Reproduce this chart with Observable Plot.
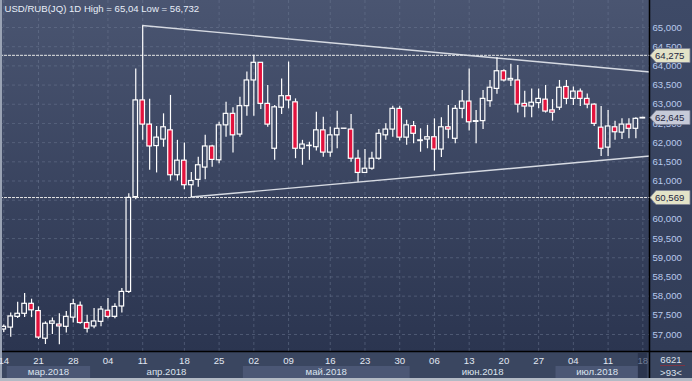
<!DOCTYPE html>
<html><head><meta charset="utf-8">
<script src="https://cdn.jsdelivr.net/npm/d3@7"></script>
<script src="https://cdn.jsdelivr.net/npm/@observablehq/plot@0.6"></script>
<style>
html,body{margin:0;padding:0;background:#2e3952;overflow:hidden;}
#wrap{position:relative;width:692px;height:381px;overflow:hidden;background:#394560;}
#plotbg{position:absolute;left:0;top:0;width:650px;height:351px;background:linear-gradient(#4a5571,#2b3550);}
#axbg{position:absolute;left:650px;top:0;width:42px;height:351px;background:linear-gradient(#3e4a67,#313c57);}
#botbg{position:absolute;left:0;top:351px;width:692px;height:30px;background:#3a4660;}
#wrap svg{position:absolute;left:0;top:0;}
</style>
</head><body>
<div id="wrap"><div id="plotbg"></div><div id="axbg"></div><div id="botbg"></div></div>
<script>
const titleText = "USD/RUB(JQ) 1D High = 65,04 Low = 56,732";
const dates = ["2018-03-14","2018-03-15","2018-03-16","2018-03-19","2018-03-20","2018-03-21","2018-03-22","2018-03-23","2018-03-26","2018-03-27","2018-03-28","2018-03-29","2018-03-30","2018-04-02","2018-04-03","2018-04-04","2018-04-05","2018-04-06","2018-04-09","2018-04-10","2018-04-11","2018-04-12","2018-04-13","2018-04-15","2018-04-16","2018-04-17","2018-04-18","2018-04-19","2018-04-20","2018-04-23","2018-04-24","2018-04-25","2018-04-26","2018-04-27","2018-04-30","2018-05-01","2018-05-02","2018-05-03","2018-05-04","2018-05-07","2018-05-08","2018-05-09","2018-05-10","2018-05-11","2018-05-13","2018-05-14","2018-05-15","2018-05-16","2018-05-17","2018-05-18","2018-05-21","2018-05-22","2018-05-23","2018-05-24","2018-05-25","2018-05-28","2018-05-29","2018-05-30","2018-05-31","2018-06-01","2018-06-04","2018-06-05","2018-06-06","2018-06-07","2018-06-08","2018-06-11","2018-06-12","2018-06-13","2018-06-14","2018-06-15","2018-06-18","2018-06-19","2018-06-20","2018-06-21","2018-06-22","2018-06-25","2018-06-26","2018-06-27","2018-06-28","2018-06-29","2018-07-02","2018-07-03","2018-07-04","2018-07-05","2018-07-06","2018-07-09","2018-07-10","2018-07-11","2018-07-12","2018-07-13","2018-07-16","2018-07-17","2018-07-18"];
const open = [57.13,57.18,57.46,57.54,57.80,57.61,56.89,57.28,57.26,57.20, 57.44,57.75,57.30,57.21,57.33,57.62,57.46,57.73,58.11,60.58, 63.10,62.47,61.91,62.08,62.32,61.15,61.53,60.89,61.03,61.35, 61.90,61.54,62.45,62.75,62.21,62.95,63.62,64.08,63.01,61.84, 62.91,63.21,63.05,61.84,61.91,61.88,62.32,61.74,62.19,62.36, 62.34,61.58,61.21,61.32,61.58,62.19,62.34,62.88,62.13,62.43, 62.04,62.08,62.14,61.82,62.40,62.10,62.88,63.07,62.54,62.56, 63.08,63.40,63.86,63.62,63.62,63.01,62.94,63.03,63.12,62.84, 62.91,63.45,63.14,63.33,63.14,62.99,62.39,61.87,62.40,62.26, 62.47,62.36,62.63];
const high = [57.25,57.56,57.84,58.07,57.92,57.72,57.33,57.43,57.54,57.60, 57.92,57.85,57.50,57.68,57.73,57.94,57.80,58.20,60.67,63.92, 65.04,63.13,62.42,62.75,63.23,62.06,61.99,61.22,61.62,62.19, 61.93,62.53,63.05,62.91,63.18,63.84,64.275,64.09,63.49,62.97, 63.66,64.10,63.14,62.06,62.01,62.79,62.66,62.40,62.82,62.37, 62.73,61.80,61.82,61.75,62.34,62.49,62.95,62.95,62.58,62.55, 62.36,62.45,62.62,62.65,62.97,62.97,63.36,63.92,62.84,63.36, 63.62,64.21,63.90,64.04,64.01,63.34,63.40,63.40,63.49,63.12, 63.62,63.62,63.45,63.40,63.27,63.01,62.94,62.84,62.56,62.62, 62.62,62.65,62.66];
const low = [57.05,56.93,57.42,57.44,57.44,56.87,56.74,57.00,56.732,57.04, 57.30,57.27,57.04,57.15,57.20,57.41,57.41,57.56,58.07,60.51, 62.06,61.28,61.21,61.88,61.00,61.00,60.77,60.569,60.84,61.03, 61.36,61.45,62.14,61.73,62.14,62.69,62.69,62.86,62.40,61.54, 62.73,62.88,61.58,61.41,61.54,61.78,61.62,61.62,61.84,62.35, 61.49,60.97,61.21,61.28,61.54,62.06,62.14,62.04,61.93,61.97, 61.75,61.84,61.26,61.61,62.10,61.97,62.62,62.30,61.97,62.34, 62.92,63.26,63.58,63.46,62.77,62.65,62.65,62.88,62.77,62.56, 62.84,62.99,62.97,62.94,62.88,62.42,61.64,61.64,62.06,62.08, 62.10,62.10,62.62];
const close = [57.20,57.47,57.54,57.80,57.63,56.92,57.28,57.34,57.21,57.46, 57.79,57.30,57.15,57.34,57.65,57.46,57.72,58.11,60.56,63.10, 62.47,61.90,62.13,62.40,61.15,61.53,60.89,61.00,61.41,61.90, 61.55,62.45,62.75,62.19,62.95,63.62,64.08,63.01,62.47,62.92, 63.21,63.10,61.84,61.95,61.92,62.32,61.74,62.19,62.36,62.365, 61.58,61.21,61.32,61.58,62.23,62.34,62.88,62.13,62.45,62.23, 62.06,62.14,61.82,62.40,62.34,62.88,63.07,62.53,62.56,63.14, 63.43,63.86,63.62,63.66,62.99,62.94,63.04,63.14,62.81,62.78, 63.43,63.14,63.33,63.14,62.99,62.49,61.84,62.42,62.27,62.47, 62.36,62.62,62.645];

const tickDates = ["2018-03-14","2018-03-21","2018-03-28","2018-04-04","2018-04-11","2018-04-18","2018-04-25","2018-05-02","2018-05-09","2018-05-16","2018-05-23","2018-05-30","2018-06-06","2018-06-13","2018-06-20","2018-06-27","2018-07-04","2018-07-11","2018-07-18"];
const tickLabels = ["14","21","28","04","11","18","25","02","09","16","23","30","06","13","20","27","04","11","18"];
const currentDate = "2018-07-18";
const yTicks = [57,57.5,58,58.5,59,59.5,60,60.5,61,61.5,62,62.5,63,63.5,64,64.5,65];
const monthLabels = ["мар.2018","апр.2018","май.2018","июн.2018","июл.2018"];
const monthStarts = ["2018-03-15","2018-04-02","2018-05-01","2018-06-01","2018-07-02"];
const monthEnds = ["2018-03-30","2018-04-30","2018-05-31","2018-06-29","2018-07-17"];
const levelValues = [64.275, 60.569];
const lastPrice = 62.645;
const trendUpper = [{date:"2018-04-11", value:65.04},{date:"2018-07-18", value:63.845}];
const trendLower = [{date:"2018-04-19", value:60.569},{date:"2018-07-18", value:61.62}];
const footerTop = "6621", footerBottom = ">93<";

const candles = dates.map((d,i)=>({date:d, open:open[i], high:high[i], low:low[i], close:close[i]}));
const up = candles.filter(d=>d.close>=d.open), down = candles.filter(d=>d.close<d.open);
const labelOf = new Map(tickDates.map((d,i)=>[d,tickLabels[i]]));
const fmt = v => v.toFixed(3).replace(".", ",");
const FONT = "Liberation Sans, Arial, sans-serif";

function custom(draw){ return (index, scales, values, dims) => { const g = d3.create("svg:g"); draw(g, scales, dims); return g.node(); }; }

const trendMark = custom((g, s, dims) => {
  const bw = s.x.bandwidth ? s.x.bandwidth() : 0;
  const xr = dims.width - dims.marginRight;
  for (const t of [trendUpper, trendLower]) {
    const x1 = s.x(t[0].date)+bw/2, y1 = s.y(t[0].value), x2 = s.x(t[1].date)+bw/2, y2 = s.y(t[1].value);
    const yr = y1 + (y2-y1)*(xr-x1)/(x2-x1);
    g.append("line").attr("x1",x1).attr("y1",y1).attr("x2",xr).attr("y2",yr)
      .attr("stroke","#d6dae2").attr("stroke-width",1.4);
  }
});

const labelBoxes = custom((g, s, dims) => {
  const xr = dims.width - dims.marginRight;
  const items = levelValues.map(v=>({v, fill:"#e3e3c8"})).concat([{v:lastPrice, fill:"#c6cad8"}]);
  for (const it of items) {
    const y = Math.round(s.y(it.v)) + 0.5;
    g.append("polygon").attr("points", `${xr},${y} ${xr+6},${y-7} ${xr+40},${y-7} ${xr+40},${y+7} ${xr+6},${y+7}`)
      .attr("fill", it.fill).attr("stroke","#7d8296").attr("stroke-width",0.8);
    g.append("text").attr("x", xr+5).attr("y", y).attr("dy","0.35em").attr("text-anchor","start").attr("fill","#1e2540")
      .attr("font-family",FONT).attr("font-size",9.6).text(fmt(it.v));
  }
});

const bottomBands = custom((g, s, dims) => {
  const bw = s.x.bandwidth();
  monthLabels.forEach((m,i) => {
    const x0 = s.x(monthStarts[i]), x1 = s.x(monthEnds[i]) + bw;
    if (i % 2 === 0) g.append("rect").attr("x",x0).attr("y",366).attr("width",x1-x0).attr("height",12).attr("fill","#4b5775");
    g.append("text").attr("x",(x0+x1)/2).attr("y",372).attr("dy","0.35em").attr("text-anchor","middle")
      .attr("fill","#dce3ee").attr("font-family",FONT).attr("font-size",9.6).text(m);
  });
  const xc = s.x(currentDate);
  g.append("rect").attr("x",xc-1).attr("y",353).attr("width",bw+2).attr("height",25).attr("fill","#2b354e");
  const xr = dims.width - dims.marginRight;
  g.append("line").attr("x1",xr-0.5).attr("x2",xr-0.5).attr("y1",0).attr("y2",378).attr("stroke","#000").attr("stroke-width",1.5);
  g.append("line").attr("x1",0).attr("x2",dims.width).attr("y1",351.5).attr("y2",351.5).attr("stroke","#000").attr("stroke-width",1.5);
  g.append("text").attr("x",(xr+dims.width)/2).attr("y",359.5).attr("dy","0.35em").attr("text-anchor","middle")
    .attr("fill","#dce3ee").attr("font-family",FONT).attr("font-size",9.6).text(footerTop);
  g.append("line").attr("x1",xr+10).attr("x2",xr+35).attr("y1",365.5).attr("y2",365.5).attr("stroke","#7a3444");
  g.append("text").attr("x",(xr+dims.width)/2).attr("y",372.5).attr("dy","0.35em").attr("text-anchor","middle")
    .attr("fill","#dce3ee").attr("font-family",FONT).attr("font-size",9.6).text(footerBottom);
  g.append("rect").attr("x",0).attr("y",0).attr("width",2).attr("height",dims.height).attr("fill","#9aa3b4");
  g.append("rect").attr("x",0).attr("y",378).attr("width",dims.width).attr("height",3).attr("fill","#b3bac5");
});

const chart = Plot.plot({
  width: 692, height: 381,
  marginLeft: 0, marginRight: 42, marginTop: 0, marginBottom: 30,
  style: {background: "transparent", fontFamily: FONT, fontSize: "10px"},
  x: {type: "band", domain: dates, range: [-0.2, 645.8], padding: 0, label: null},
  y: {domain: [57, 65], range: [334, 27], label: null},
  marks: [
    Plot.gridY(yTicks, {stroke: "#6e7a94", strokeOpacity: 0.5, strokeDasharray: "3,3"}),
    Plot.gridX(tickDates, {stroke: "#6e7a94", strokeOpacity: 0.5, strokeDasharray: "3,3"}),
    Plot.ruleY(levelValues, {stroke: "#e6e6e6", strokeDasharray: "3,1", strokeWidth: 1}),
    trendMark,
    Plot.ruleX(candles, {x: "date", y1: "low", y2: d => Math.min(d.open, d.close), stroke: "#ffffff", strokeWidth: 1.2}),
    Plot.ruleX(candles, {x: "date", y1: d => Math.max(d.open, d.close), y2: "high", stroke: "#ffffff", strokeWidth: 1.2}),
    Plot.barY(up, {x: "date", y1: "open", y2: "close", fill: "none", stroke: "#ffffff", strokeWidth: 1.2, insetLeft: 1.2, insetRight: 1.2}),
    Plot.barY(down, {x: "date", y1: "open", y2: "close", fill: "#e3123d", stroke: "#ffffff", strokeWidth: 1.2, insetLeft: 1.2, insetRight: 1.2}),
    Plot.axisY(yTicks, {anchor: "right", label: null, tickSize: 0, tickPadding: 2, tickFormat: fmt, fill: "#b9c9ec", textAnchor: "start", fontSize: 9.6}),
    bottomBands,
    Plot.axisX(tickDates.filter(d => d !== currentDate), {anchor: "bottom", label: null, tickSize: 0, tickPadding: 6, tickFormat: d => labelOf.get(d), fill: "#e2e8f2", fontSize: 9.6}),
    Plot.axisX([currentDate], {anchor: "bottom", label: null, tickSize: 0, tickPadding: 6, tickFormat: d => labelOf.get(d), fill: "#6f7b93", fontSize: 9.6}),
    labelBoxes,
    Plot.text([titleText], {frameAnchor: "top-left", dx: 4, dy: 8, fill: "#e8eef8", fontSize: 9.6, textAnchor: "start", lineAnchor: "middle"})
  ]
});
document.getElementById("wrap").appendChild(chart);
</script>
</body></html>
